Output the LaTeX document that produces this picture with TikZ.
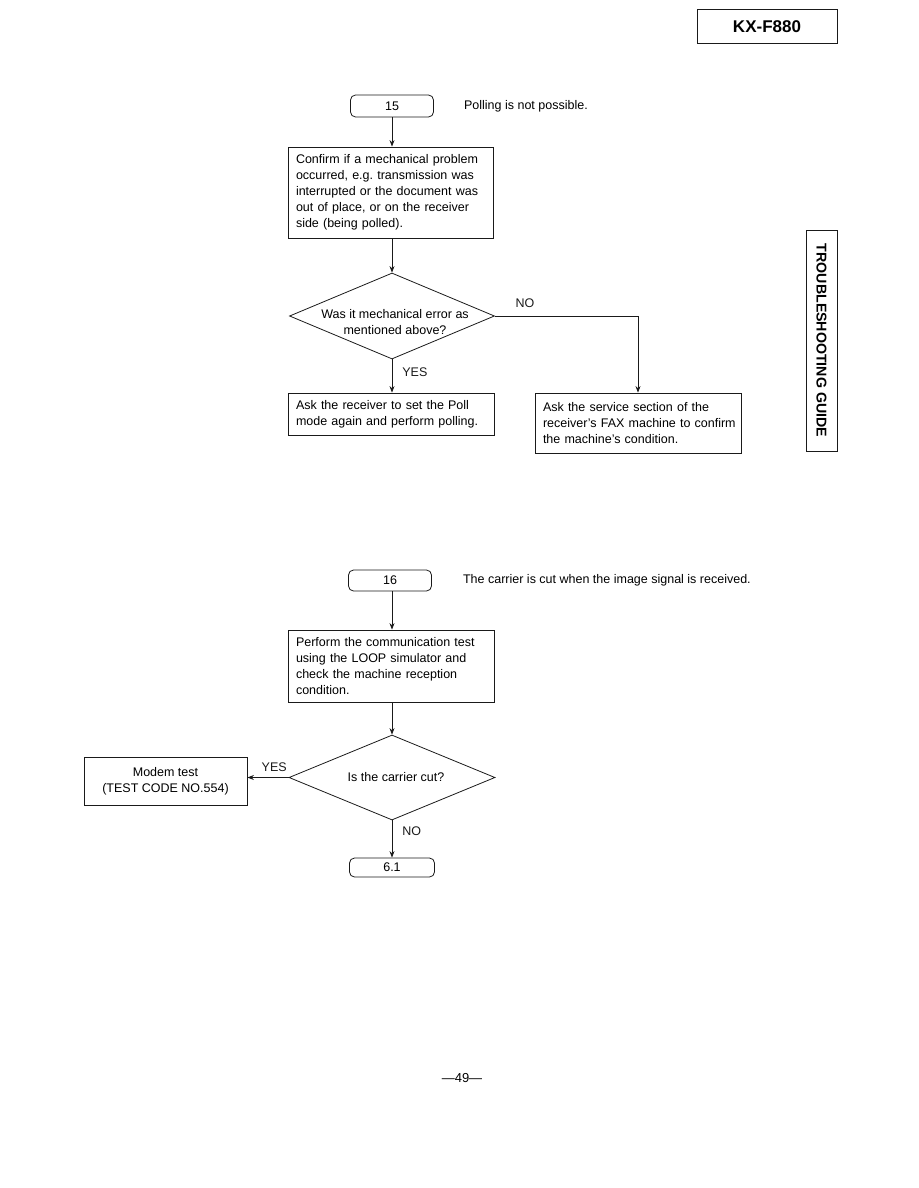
\documentclass[tikz,border=0pt]{standalone}
\usepackage{fontspec}
\setmainfont{Liberation Sans}
\usetikzlibrary{arrows.meta,positioning,calc,shapes.geometric}
\definecolor{cInk}{HTML}{1A1A1A}
\newcommand{\flowfont}{\fontsize{12.5}{16}\selectfont}
\newcommand{\fl}[1]{\mbox{#1}}
\tikzset{
  >={Stealth[length=6.5pt,width=5pt]},
  box/.style ={draw=cInk,line width=0.8pt,inner xsep=8pt,inner ysep=0pt,align=left,font=\flowfont},
  term/.style={box,rounded corners=5pt,align=center},
  dia/.style ={diamond,draw=cInk,line width=0.8pt,inner sep=0pt},
  ar/.style  ={->,line width=0.8pt,cInk},
  lbl/.style ={font=\flowfont,inner sep=1pt},
  tag/.style ={draw=cInk,line width=1pt,inner sep=0pt,font=\bfseries},
}
\begin{document}
\begin{tikzpicture}[x=1pt,y=-1pt]
\useasboundingbox (0,0) rectangle (918,1188);
% page furniture
\node[tag,minimum width=140pt,minimum height=34pt,font=\bfseries\fontsize{17}{20}\selectfont] (model) at (767,27) {KX-F880};
\node[tag,rotate=-90,minimum width=221pt,minimum height=31pt,font=\bfseries\fontsize{14.2}{16}\selectfont] (guide) at (821.5,340.5) {TROUBLESHOOTING GUIDE};
\node[lbl,font=\fontsize{13}{15}\selectfont] (page) at (462,1078) {\textemdash49\textemdash};

% chart 15
\node[term,minimum width=83pt,minimum height=22pt] (t15) at (392,106) {15};
\node[lbl,right=29pt of t15] (t15txt) {Polling is not possible.};
\node[box,minimum width=205pt,minimum height=91pt,text width=189pt] (conf) at (390.5,192.5)
  {\fl{Confirm if a mechanical problem}\\\fl{occurred, e.g.\ transmission was}\\\fl{interrupted or the document was}\\\fl{out of place, or on the receiver}\\\fl{side (being polled).}};
\node[dia,minimum width=205pt,minimum height=86pt,
  label={[lbl,align=center,xshift=3pt,yshift=-6pt]center:Was it mechanical error as\\mentioned above?}] (q1) at (392,316) {};
\node[box,minimum width=206pt,minimum height=42pt,text width=190pt] (poll) at (391,414)
  {\fl{Ask the receiver to set the Poll}\\\fl{mode again and perform polling.}};
\node[box,minimum width=206pt,minimum height=60pt,text width=190pt] (svc) at (638,423)
  {\fl{Ask the service section of the}\\\fl{receiver's FAX machine to confirm}\\\fl{the machine's condition.}};
\draw[ar] (t15.south) -- (t15.south |- conf.north);
\draw[ar] (t15.south |- conf.south) -- (q1.north);
\draw[ar] (q1.south) -- (q1.south |- poll.north) node[lbl,pos=0.4,right=9pt] {YES};
\draw[ar] (q1.east) -| (svc.north) node[lbl,pos=0.105,above=7pt] {NO};

% chart 16
\node[term,minimum width=83pt,minimum height=21pt] (t16) at (390,580.5) {16};
\node[lbl,right=30pt of t16] (t16txt) {The carrier is cut when the image signal is received.};
\node[box,minimum width=206pt,minimum height=72pt,text width=190pt] (loop) at (391,666)
  {\fl{Perform the communication test}\\\fl{using the LOOP simulator and}\\\fl{check the machine reception}\\\fl{condition.}};
\node[dia,minimum width=206pt,minimum height=85pt,
  label={[lbl,xshift=4pt]center:Is the carrier cut?}] (q2) at (392,777.5) {};
\node[box,align=center,minimum width=163pt,minimum height=48pt] (modem) at (165.5,781)
  {Modem test\\(TEST CODE NO.554)};
\node[term,minimum width=85pt,minimum height=19pt] (t61) at (392,867.5) {6.1};
\draw[ar] (t16.south -| q2.north) -- (q2.north |- loop.north);
\draw[ar] (q2.north |- loop.south) -- (q2.north);
\draw[ar] (q2.west) -- (q2.west -| modem.east) node[lbl,pos=0.35,above=4pt] {YES};
\draw[ar] (q2.south) -- (t61.north) node[lbl,pos=0.3,right=9pt] {NO};
\end{tikzpicture}
\end{document}
